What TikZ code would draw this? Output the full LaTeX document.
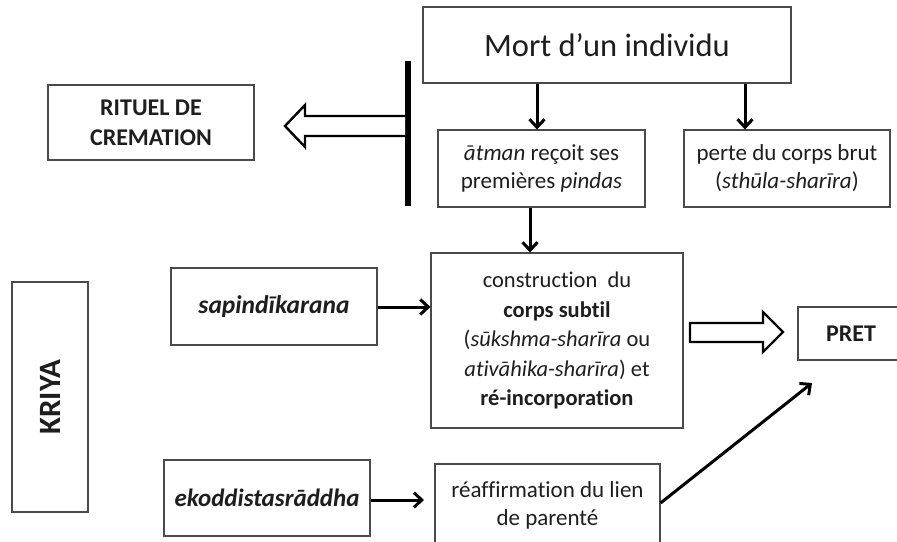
\documentclass[tikz,border=0pt]{standalone}
\usepackage{fontspec}
\setmainfont{Carlito}[Ligatures={NoCommon}]
\usetikzlibrary{arrows.meta}
\definecolor{boxline}{HTML}{4A4A4A}
\definecolor{txt}{HTML}{1E1E1E}
\tikzset{
  box/.style={draw=boxline, line width=1.1pt, fill=white, inner sep=2pt, align=center,
    text=txt, font=\fontsize{23}{28}\selectfont},
  conn/.style={line width=3pt, -{Straight Barb[length=8pt,width=15pt,line width=3pt]}},
  hollow/.style={draw=black, line width=2.4pt, fill=white, line join=miter},
}
\begin{document}
\begin{tikzpicture}[x=1pt,y=-1pt]
\useasboundingbox (0,0) rectangle (897,541);
\begin{scope}
\clip (0,0) rectangle (897,541);
% boxes
\node[box, minimum width=368, minimum height=76, font=\fontsize{32.5}{38}\selectfont] (mort) at (607,45) {\raisebox{-3pt}{Mort d’un individu}};
\node[box, minimum width=207, minimum height=77] (atman) at (541.5,168.5) {\textit{ātman} reçoit ses\\premières \textit{pindas}};
\node[box, minimum width=206, minimum height=77] (perte) at (787,168.5) {perte du corps brut\\(\textit{sthūla-sharīra})};
\node[box, minimum width=206, minimum height=75, font=\fontsize{24}{30}\selectfont\bfseries] (rituel) at (151,122.5) {RITUEL DE\\CREMATION};
\node[box, minimum width=206, minimum height=77, font=\fontsize{25.5}{30}\selectfont\bfseries\itshape] (sapin) at (274,306.5) {sapindīkarana};
\node[box, minimum width=252, minimum height=175, font=\fontsize{22.5}{29.5}\selectfont] (constr) at (557,340.5) {construction\ \ du\\\textbf{corps subtil}\\(\textit{sūkshma-sharīra} ou\\\textit{ativāhika-sharīra}) et\\\textbf{ré-incorporation}};
\node[box, minimum width=106, minimum height=53, font=\fontsize{24}{28}\selectfont\bfseries] (pret) at (851,333.5) {PRET};
\node[box, minimum width=76, minimum height=230] (kriya) at (50,397) {};
\node[font=\fontsize{31}{34}\selectfont\bfseries, text=txt, rotate=90] (kriyat) at (kriya.center) {KRIYA};
\node[box, minimum width=206, minimum height=76, font=\fontsize{25}{28}\selectfont\bfseries\itshape] (ekod) at (267,498) {ekoddistasrāddha};
\node[box, minimum width=225, minimum height=82] (reaff) at (547.5,505) {réaffirmation du lien\\de parenté};
% vertical bar
\fill[black] (405,61) rectangle (411,206);
\coordinate (bar) at (405,126);
% connectors
\draw[conn] (mort.south -| 537,0) -- (atman.north -| 537,0);
\draw[conn] (mort.south -| 745,0) -- (perte.north -| 745,0);
\draw[conn] (atman.south -| 530,0) -- (constr.north -| 530,0);
\draw[conn] (sapin.east |- 0,307) -- (constr.west |- 0,307);
\coordinate (ekodend) at (424,500);
\draw[conn] (ekod.east |- 0,500) -- (ekodend);
\coordinate (diagend) at (812,383);
\draw[conn] (reaff.east |- 0,503) -- (diagend);
% hollow block arrows
\coordinate (ltip) at (285,126);
\draw[hollow] (bar |- 0,116) -- (305,116) -- (305,105) -- (ltip) -- (305,147) -- (305,136) -- (bar |- 0,136);
\coordinate (rtip) at (783,332);
\draw[hollow] (690,323) -- (763,323) -- (763,312) -- (rtip) -- (763,352) -- (763,342) -- (690,342) -- cycle;
\end{scope}
\end{tikzpicture}
\end{document}
